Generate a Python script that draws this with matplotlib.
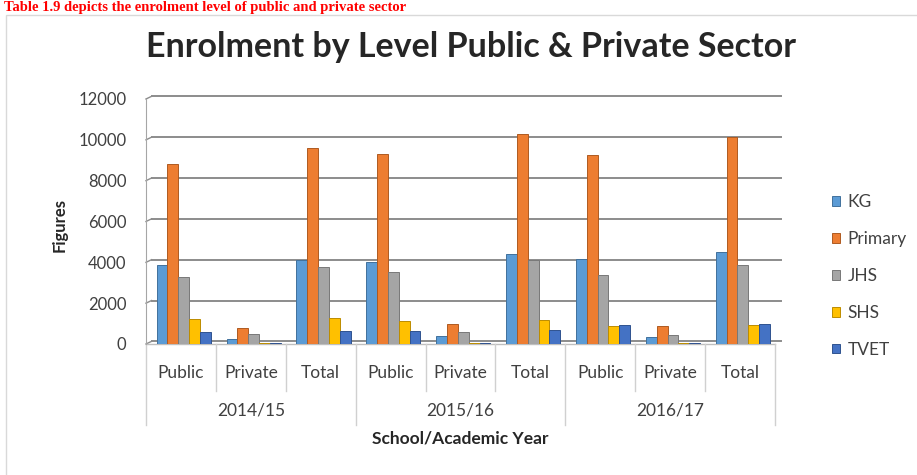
import numpy as np
import matplotlib.pyplot as plt
from matplotlib.transforms import blended_transform_factory
from matplotlib.patches import Rectangle

plt.rcParams['font.family'] = ['Lato', 'DejaVu Sans']

# Enrolment figures by school year and sector
years = ['2014/15', '2015/16', '2016/17']
sectors = ['Public', 'Private', 'Total']
levels = ['KG', 'Primary', 'JHS', 'SHS', 'TVET']
colors = ['#5B9BD5', '#ED7D31', '#A5A5A5', '#FFC000', '#4472C4']
edges = ['#41719C', '#AE5A21', '#787878', '#BC8C00', '#2F528F']

# one list per level, ordered year by year as Public, Private, Total
kg      = [3870, 260, 4130, 4030, 400, 4430, 4160, 360, 4520]
primary = [8820, 770, 9590, 9300, 1000, 10300, 9260, 900, 10160]
jhs     = [3280, 480, 3760, 3520, 600, 4120, 3400, 450, 3850]
shs     = [1210, 40, 1250, 1130, 40, 1170, 880, 40, 920]
tvet    = [600, 40, 640, 650, 40, 690, 930, 40, 970]
series = [kg, primary, jhs, shs, tvet]

yticks = [0, 2000, 4000, 6000, 8000, 10000, 12000]

fig = plt.figure(figsize=(9.17, 4.75), dpi=100)
ax = fig.add_axes([0.1592, 0.2758, 0.6859, 0.5158])

n_cat = len(years) * len(sectors)
x = np.arange(n_cat) + 0.5
w = 0.155
for i, (vals, lab) in enumerate(zip(series, levels)):
    ax.bar(x + (i - 2) * w + 0.04, vals, width=w, color=colors[i],
           edgecolor=edges[i], linewidth=0.7, label=lab, zorder=3)

ax.set_xlim(0, n_cat)
ax.set_ylim(0, 12000)
ax.set_yticks(yticks)
ax.set_yticklabels([str(v) for v in yticks], fontsize=12, color='#404040')
ax.tick_params(axis='y', length=0, pad=14)
ax.set_xticks([])
for y in yticks:
    ax.plot([0.08, n_cat + 0.08], [y + 130, y + 130], color='#8C8C8C',
            lw=1.4, zorder=1, clip_on=False)
    ax.plot([0, 0.08], [y, y + 130], color='#8C8C8C', lw=1.0, zorder=1,
            clip_on=False)
for s in ['top', 'right', 'bottom']:
    ax.spines[s].set_visible(False)
ax.spines['left'].set_color('#A6A6A6')
ax.plot([0, n_cat], [0, 0], color='#BFBFBF', lw=1.0, zorder=2, clip_on=False)

# two-level category axis
tr = blended_transform_factory(ax.transData, ax.transAxes)
for k in range(n_cat + 1):
    bottom = -0.33 if k % 3 == 0 else -0.19
    ax.plot([k, k], [0, bottom], transform=tr, color='#D0D0D0', lw=1.0,
            clip_on=False)
for k in range(n_cat):
    ax.text(k + 0.5, -0.118, sectors[k % 3], transform=tr, ha='center',
            va='center', fontsize=12.5, color='#404040')
for j, yr in enumerate(years):
    ax.text(3 * j + 1.5, -0.273, yr, transform=tr, ha='center', va='center',
            fontsize=12.5, color='#404040')
ax.text(n_cat / 2, -0.385, 'School/Academic Year', transform=tr,
        ha='center', va='center', fontsize=12.5, fontweight='bold',
        color='#262626')

fig.text(60 / 917, 1 - 225 / 475, 'Figures', rotation=90, ha='center',
         va='center', fontsize=12, fontweight='bold', color='#262626')
fig.text(471 / 917, 1 - 47 / 475, 'Enrolment by Level Public & Private Sector',
         ha='center', va='center', fontsize=24.5, fontweight='bold',
         color='#262626')

ax.legend(loc='center left', bbox_to_anchor=(816 / 917, 1 - 276 / 475),
          bbox_transform=fig.transFigure, frameon=False, fontsize=12.5,
          handlelength=0.5, handleheight=0.5, handletextpad=0.4,
          labelspacing=1.2, labelcolor='#404040')

# chart frame and caption above it
fig.patches.append(Rectangle((6 / 917, -0.05), 1.0, 1 - 15 / 475 + 0.05,
                             transform=fig.transFigure, fill=False,
                             edgecolor='#D9D9D9', lw=1.0))
fig.text(4 / 917, 1 - 1 / 475,
         'Table 1.9 depicts the enrolment level of public and private sector',
         ha='left', va='top', fontsize=10.5, fontweight='bold',
         color='#FF0000', family='Liberation Serif')

fig.savefig('out.png', dpi=100)
